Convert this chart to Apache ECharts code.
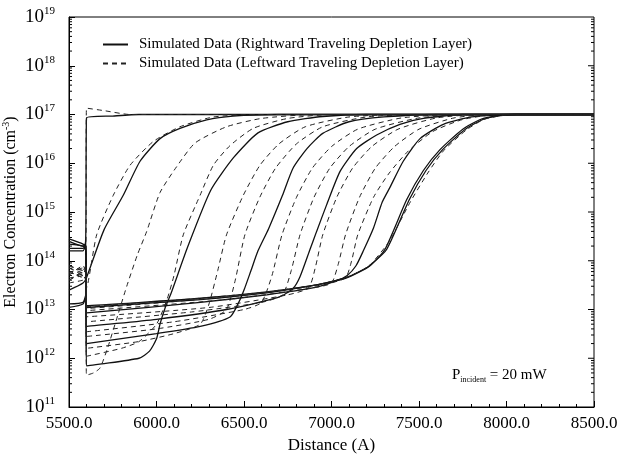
<!DOCTYPE html>
<html>
<head>
<meta charset="utf-8">
<script src="https://cdn.jsdelivr.net/npm/echarts@6/dist/echarts.min.js"></script>
<style>
  html, body { margin: 0; padding: 0; background: #fff; }
  #chart { width: 618px; height: 454px; }
</style>
</head>
<body>
<div id="chart"></div>
<script>
// x: distance (A), y: electron concentration (cm^-3)
const rightward = [
  [[5500,2.5e14],[5580,2.0e14],[5594,2.2e14],[5597,1e15],[5600,8.5e16],[5750,9.3e16],[5900,1e17],[8500,1e17]],
  [[5500,2.5e13],[5580,3.5e13],[5600,4.5e13],[5700,4.3e14],[5810,2.2e15],[5906,1.1e16],[6020,3.2e16],[6134,5.2e16],[6287,7.8e16],[6437,9.3e16],[6700,1e17],[8500,1e17]],
  [[5500,1.3e13],[5580,1.4e13],[5596,2e13],[5600,7e11],[5900,1e12],[5960,1.4e12],[6000,2.5e12],[6020,5e12],[6050,1.1e13],[6080,2e13],[6180,2e14],[6310,2.8e15],[6440,1.3e16],[6580,4.2e16],[6750,7.1e16],[6950,9.1e16],[7200,1e17],[8500,1e17]],
  [[5500,1.8e14],[5580,1.8e14],[5596,2e14],[5600,2e12],[6000,3.2e12],[6250,4.5e12],[6420,7e12],[6470,1.4e13],[6500,2.5e13],[6540,6.3e13],[6580,1.6e14],[6640,4.5e14],[6720,2.2e15],[6780,7.9e15],[6860,2e16],[6950,4.1e16],[7100,7.1e16],[7300,8.9e16],[7600,1e17],[8500,1e17]],
  [[5500,2.2e14],[5580,2e14],[5596,1.6e14],[5600,4.5e12],[6000,6.3e12],[6400,1e13],[6700,1.8e13],[6780,2.7e13],[6820,4.7e13],[6877,1.7e14],[6915,4e14],[6972,1.4e15],[7049,6.8e15],[7144,2e16],[7258,3.8e16],[7391,6.3e16],[7525,8.3e16],[7750,1e17],[8500,1e17]],
  [[5500,1.6e14],[5580,1.6e14],[5596,2.5e14],[5600,8.5e12],[6250,1.4e13],[6630,2e13],[6900,2.8e13],[7030,3.9e13],[7090,5e13],[7140,7.9e13],[7182,1.6e14],[7240,4.7e14],[7290,1.6e15],[7334,3.2e15],[7410,1.1e16],[7506,3.2e16],[7639,6.3e16],[7800,8.9e16],[8000,1e17],[8500,1e17]],
  [[5500,2.8e14],[5580,2.2e14],[5596,2e14],[5600,1.1e13],[6250,1.6e13],[6630,2.2e13],[6915,3.2e13],[7030,3.9e13],[7090,4.5e13],[7182,6.5e13],[7220,7.9e13],[7305,1.7e14],[7430,1.8e15],[7525,7.1e15],[7620,1.9e16],[7750,5e16],[7850,7.9e16],[7950,9.5e16],[8050,1e17],[8500,1e17]],
  [[5500,1.1e13],[5580,1.3e13],[5596,1.8e13],[5600,1.2e13],[6250,1.7e13],[6630,2.3e13],[6915,3.2e13],[7030,4e13],[7090,4.6e13],[7182,6.6e13],[7225,8.3e13],[7315,1.7e14],[7445,1.8e15],[7540,7.1e15],[7635,1.9e16],[7765,5e16],[7865,7.9e16],[7965,9.5e16],[8060,1e17],[8500,1e17]]
];

const leftward = [
  [[5500,7.9e13],[5580,6.3e13],[5596,7.1e13],[5600,1.35e17],[5700,1.2e17],[5850,1e17],[8500,1e17]],
  [[5500,5e13],[5580,7.9e13],[5596,5.6e13],[5600,2.8e13],[5658,3.4e14],[5753,2.2e15],[5849,9.1e15],[5982,2.8e16],[6134,5.6e16],[6325,8.9e16],[6600,1e17],[8500,1e17]],
  [[5500,5.6e13],[5580,5e13],[5596,4e13],[5600,4.5e11],[5640,5e11],[5677,6.3e11],[5720,1.6e12],[5780,7.9e12],[5830,3e13],[5890,1.3e14],[5944,4e14],[6020,2.5e15],[6115,8.5e15],[6220,2.6e16],[6400,5.6e16],[6600,8.3e16],[6900,1e17],[8500,1e17]],
  [[5500,7.1e13],[5580,5.6e13],[5596,5e13],[5600,1.1e12],[5800,1.6e12],[5900,2.2e12],[6000,5e12],[6060,1.6e13],[6100,5e13],[6153,3.4e14],[6249,2.2e15],[6325,9.1e15],[6420,2.3e16],[6553,5.2e16],[6750,8.3e16],[7000,1e17],[8500,1e17]],
  [[5500,4e13],[5580,5.6e13],[5596,6.3e13],[5600,1.6e12],[5900,2.2e12],[6100,3.2e12],[6250,5e12],[6300,1.3e13],[6350,6.3e13],[6400,3.4e14],[6496,2.2e15],[6591,9.1e15],[6700,2.5e16],[6850,5.6e16],[7100,8.9e16],[7400,1e17],[8500,1e17]],
  [[5500,6.3e13],[5580,4.5e13],[5596,5e13],[5600,2.8e12],[6000,4e12],[6300,6.3e12],[6400,1e13],[6450,4e13],[6505,3.4e14],[6590,2e15],[6680,7.9e15],[6800,2.5e16],[6950,5.6e16],[7200,8.9e16],[7500,1e17],[8500,1e17]],
  [[5500,4.5e13],[5580,5e13],[5596,7.9e13],[5600,3.5e12],[6100,5.6e12],[6500,1e13],[6600,1.4e13],[6660,5e13],[6717,3.4e14],[6800,2e15],[6890,7.9e15],[7000,2.2e16],[7150,5e16],[7400,8.5e16],[7700,1e17],[8500,1e17]],
  [[5500,7.9e13],[5580,6.3e13],[5596,5.6e13],[5600,5.6e12],[6200,8.9e12],[6600,1.4e13],[6720,2e13],[6770,6.3e13],[6820,3.4e14],[6900,2e15],[6990,7.9e15],[7100,2.2e16],[7250,5e16],[7500,8.5e16],[7800,1e17],[8500,1e17]],
  [[5500,3.5e13],[5580,4e13],[5596,4.5e13],[5600,7.1e12],[6300,1.1e13],[6750,2e13],[6870,2.8e13],[6910,7.9e13],[6950,3.4e14],[7030,2e15],[7120,7.9e15],[7230,2.2e16],[7380,5e16],[7600,8.5e16],[7850,1e17],[8500,1e17]],
  [[5500,5.6e13],[5580,7.1e13],[5596,6.3e13],[5600,9.5e12],[6400,1.6e13],[6900,2.8e13],[7000,3.5e13],[7040,8.9e13],[7080,3.4e14],[7160,2e15],[7250,7.9e15],[7360,2.2e16],[7500,5e16],[7700,8.5e16],[7900,1e17],[8500,1e17]],
  [[5500,7.1e13],[5580,5e13],[5596,4e13],[5600,1.05e13],[6400,1.8e13],[6950,3.2e13],[7080,4.5e13],[7115,1e14],[7150,3.4e14],[7240,2e15],[7330,6.3e15],[7440,1.8e16],[7580,4.5e16],[7750,7.9e16],[7950,1e17],[8500,1e17]],
  [[5500,4e13],[5580,6.3e13],[5596,7.9e13],[5600,1.15e13],[6250,1.7e13],[6630,2.3e13],[6915,3.2e13],[7030,4e13],[7090,4.6e13],[7182,6.6e13],[7230,8.9e13],[7330,2.5e14],[7450,1.6e15],[7550,6.3e15],[7640,1.8e16],[7770,4.8e16],[7870,7.9e16],[7970,9.5e16],[8060,1e17],[8500,1e17]]
];

const xTicks = ['5500.0', '6000.0', '6500.0', '7000.0', '7500.0', '8000.0', '8500.0'];
const rightName = 'Simulated Data (Rightward Traveling Depletion Layer)';
const leftName = 'Simulated Data (Leftward Traveling Depletion Layer)';

const serif = 'Liberation Serif';
const X_MIN = 5500, X_MAX = 8500;

// log tick marks on both y sides (minor on both, major on right)
const yTickMarks = [];
for (let e = 11; e <= 18; e++) {
  for (let m = 1; m <= 9; m++) {
    if (e === 11 && m === 1) continue;
    yTickMarks.push([X_MIN, m * Math.pow(10, e), m === 1 ? 1 : 0]);
  }
}

const myChart = echarts.init(document.getElementById('chart'));

const series = [];
rightward.forEach(function (d) {
  series.push({
    name: rightName, type: 'line', data: d, symbol: 'none',
    smooth: 0.2, animation: false,
    itemStyle: { color: '#111' },
    lineStyle: { color: '#111', width: 1.3, type: 'solid' }
  });
});
leftward.forEach(function (d) {
  series.push({
    name: leftName, type: 'line', data: d, symbol: 'none',
    smooth: 0.2, animation: false,
    itemStyle: { color: '#222' },
    lineStyle: { color: '#222', width: 1, type: [5, 4] }
  });
});
series.push({
  type: 'custom', animation: false, silent: true, clip: false,
  data: yTickMarks,
  renderItem: function (params, api) {
    const v = api.value(1);
    const major = api.value(2) === 1;
    const pL = api.coord([X_MIN, v]);
    const pR = api.coord([X_MAX, v]);
    const children = [];
    if (!major) {
      children.push({ type: 'line', shape: { x1: pL[0], y1: pL[1], x2: pL[0] + 3, y2: pL[1] }, style: { stroke: '#000', lineWidth: 1 } });
    }
    children.push({ type: 'line', shape: { x1: pR[0], y1: pR[1], x2: pR[0] - (major ? 6 : 3), y2: pR[1] }, style: { stroke: '#000', lineWidth: 1 } });
    return { type: 'group', children: children };
  }
});

const option = {
  backgroundColor: '#fff',
  animation: false,
  grid: {
    left: 69, right: 24, top: 17, bottom: 47,
    outerBoundsMode: 'none', containLabel: false,
    show: true, borderColor: '#000', borderWidth: 1
  },
  legend: {
    data: [rightName, leftName],
    orient: 'vertical', left: 97, top: 32, itemGap: 4,
    itemWidth: 25, itemHeight: 14,
    itemStyle: { opacity: 0 },
    textStyle: { fontFamily: serif, fontSize: 15, color: '#000', padding: [0, 0, 0, 6] }
  },
  xAxis: {
    type: 'value', min: X_MIN, max: X_MAX, interval: 500,
    axisLine: { lineStyle: { color: '#000' } },
    axisTick: { inside: true, length: 6, lineStyle: { color: '#000' } },
    minorTick: { show: true, splitNumber: 5, length: 3, lineStyle: { color: '#000' } },
    splitLine: { show: false },
    axisLabel: {
      fontFamily: serif, fontSize: 17, color: '#000', margin: 8,
      formatter: function (v) { return xTicks[Math.round((v - X_MIN) / 500)]; }
    },
    name: 'Distance (A)', nameLocation: 'middle', nameGap: 29,
    nameTextStyle: { fontFamily: serif, fontSize: 17, color: '#000' }
  },
  yAxis: {
    type: 'log', logBase: 10, min: 1e11, max: 1e19,
    axisLine: { lineStyle: { color: '#000' } },
    axisTick: { inside: true, length: 6, lineStyle: { color: '#000' } },
    splitLine: { show: false },
    axisLabel: {
      margin: 14,
      formatter: function (v) { return '{b|10}{e|' + Math.round(Math.log10(v)) + '}'; },
      rich: {
        b: { fontFamily: serif, fontSize: 19, color: '#000' },
        e: { fontFamily: serif, fontSize: 11, color: '#000', verticalAlign: 'top', padding: [0, 0, 12, 0] }
      }
    },
    name: '{t|Electron Concentration (cm}{s|-3}{t|)}', nameLocation: 'middle', nameGap: 48,
    nameMoveOverlap: false,
    nameTextStyle: {
      rich: {
        t: { fontFamily: serif, fontSize: 16, color: '#000' },
        s: { fontFamily: serif, fontSize: 10, color: '#000', padding: [0, 0, 10, 0] }
      }
    }
  },
  graphic: [{
    type: 'text', left: 452, top: 368,
    style: {
      text: '{p|P}{s|incident}{p| = 20 mW}',
      rich: {
        p: { fontFamily: serif, fontSize: 15, fill: '#000' },
        s: { fontFamily: serif, fontSize: 8, fill: '#000', padding: [8, 0, 0, 0] }
      }
    }
  }],
  series: series
};

myChart.setOption(option);
</script>
</body>
</html>
